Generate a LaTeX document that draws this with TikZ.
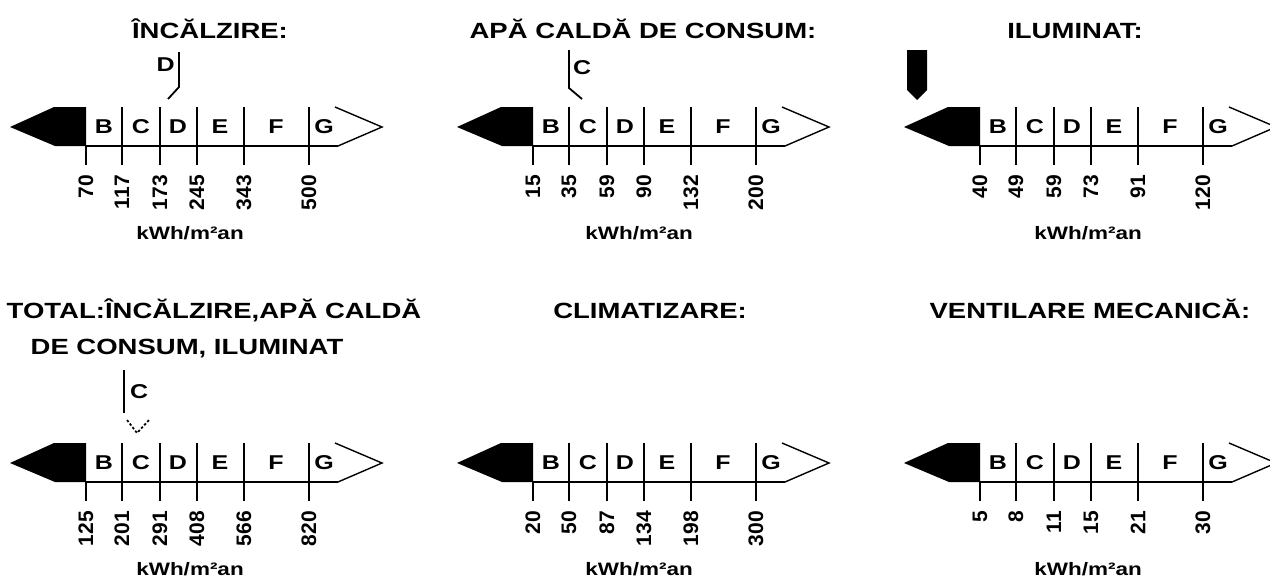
\documentclass[tikz,border=0pt]{standalone}
\usepackage{fontspec}
\setmainfont{Liberation Sans}[FakeStretch=1.25]
\newfontfamily\cifre{Liberation Sans}
\usetikzlibrary{positioning}

\begin{document}
\begin{tikzpicture}[x=1pt, y=-1pt,
  titlu/.style={font=\fontsize{22}{26}\selectfont\bfseries, inner sep=0, anchor=base},
  litera/.style={font=\fontsize{20}{22}\selectfont\bfseries, inner sep=0},
  valoare/.style={font=\cifre\fontsize{21}{22}\selectfont\bfseries, inner sep=0, rotate=90, anchor=east},
  unitate/.style={font=\fontsize{18}{20}\selectfont\bfseries, inner sep=0},
  linie/.style={line width=1.8pt},
  sageata/.style={line width=1.4pt}]
\useasboundingbox (0,0) rectangle (1270,579);

\node[titlu] (T1) at (210,38) {ÎNCĂLZIRE:};
\node[titlu] (T2) at (643,38) {APĂ CALDĂ DE CONSUM:};
\node[titlu] (T3) at (1075,38) {ILUMINAT:};
\node[titlu] (T4) at (214,318) {TOTAL:ÎNCĂLZIRE,APĂ CALDĂ};
\node[titlu] (T4b) at (187,354) {DE CONSUM, ILUMINAT};
\node[titlu] (T5) at (650,318) {CLIMATIZARE:};
\node[titlu] (T6) at (1090,318) {VENTILARE MECANICĂ:};

\begin{scope}[shift={(86,107)}]
  \fill (-76,20) -- (-32,0) -- (0,0) -- (0,39) -- (-31,39) -- cycle;
  \draw[linie] (0,39) -- (252,39); \draw[sageata] (252,39) -- (296,20) -- (249,0);
  \draw[linie] (0,39) -- (0,58) (36,0) -- (36,58) (74,0) -- (74,58) (111,0) -- (111,58) (158,0) -- (158,58) (223,0) -- (223,58);
  \path[litera] (18,20) node (A-B) {B} (55,20) node (A-C) {C} (92,20) node (A-D) {D} (134,20) node (A-E) {E} (190,20) node (A-F) {F} (238,20) node (A-G) {G};
  \path (0,68) node[valoare] (A-1) {70} (36,68) node[valoare] (A-2) {117} (74,68) node[valoare] (A-3) {173} (111,68) node[valoare] (A-4) {245} (158,68) node[valoare] (A-5) {343} (223,68) node[valoare] (A-6) {500};
  \node[unitate] (A-u) at (104,126) {kWh/m²an};
  \draw[linie] (93,-55) -- (93,-20) -- (82,-8);
  \node[litera, anchor=east] (A-m) at (89,-42) {D};
\end{scope}

\begin{scope}[shift={(533,107)}]
  \fill (-76,20) -- (-32,0) -- (0,0) -- (0,39) -- (-31,39) -- cycle;
  \draw[linie] (0,39) -- (252,39); \draw[sageata] (252,39) -- (296,20) -- (249,0);
  \draw[linie] (0,39) -- (0,58) (36,0) -- (36,58) (74,0) -- (74,58) (111,0) -- (111,58) (158,0) -- (158,58) (223,0) -- (223,58);
  \path[litera] (18,20) node (B-B) {B} (55,20) node (B-C) {C} (92,20) node (B-D) {D} (134,20) node (B-E) {E} (190,20) node (B-F) {F} (238,20) node (B-G) {G};
  \path (0,68) node[valoare] (B-1) {15} (36,68) node[valoare] (B-2) {35} (74,68) node[valoare] (B-3) {59} (111,68) node[valoare] (B-4) {90} (158,68) node[valoare] (B-5) {132} (223,68) node[valoare] (B-6) {200};
  \node[unitate] (B-u) at (106,126) {kWh/m²an};
  \draw[linie] (36,-57) -- (36,-19) -- (49,-8);
  \node[litera, anchor=west] (B-m) at (40,-39) {C};
\end{scope}

\begin{scope}[shift={(980,107)}]
  \fill (-76,20) -- (-32,0) -- (0,0) -- (0,39) -- (-31,39) -- cycle;
  \draw[linie] (0,39) -- (252,39); \draw[sageata] (252,39) -- (296,20) -- (249,0);
  \draw[linie] (0,39) -- (0,58) (36,0) -- (36,58) (74,0) -- (74,58) (111,0) -- (111,58) (158,0) -- (158,58) (223,0) -- (223,58);
  \path[litera] (18,20) node (C-B) {B} (55,20) node (C-C) {C} (92,20) node (C-D) {D} (134,20) node (C-E) {E} (190,20) node (C-F) {F} (238,20) node (C-G) {G};
  \path (0,68) node[valoare] (C-1) {40} (36,68) node[valoare] (C-2) {49} (74,68) node[valoare] (C-3) {59} (111,68) node[valoare] (C-4) {73} (158,68) node[valoare] (C-5) {91} (223,68) node[valoare] (C-6) {120};
  \node[unitate] (C-u) at (108,126) {kWh/m²an};
  \fill (-73,-57) -- (-53,-57) -- (-53,-17) -- (-63,-7) -- (-73,-17) -- cycle;
\end{scope}

\begin{scope}[shift={(86,443)}]
  \fill (-76,20) -- (-32,0) -- (0,0) -- (0,39) -- (-31,39) -- cycle;
  \draw[linie] (0,39) -- (252,39); \draw[sageata] (252,39) -- (296,20) -- (249,0);
  \draw[linie] (0,39) -- (0,58) (36,0) -- (36,58) (74,0) -- (74,58) (111,0) -- (111,58) (158,0) -- (158,58) (223,0) -- (223,58);
  \path[litera] (18,20) node (D-B) {B} (55,20) node (D-C) {C} (92,20) node (D-D) {D} (134,20) node (D-E) {E} (190,20) node (D-F) {F} (238,20) node (D-G) {G};
  \path (0,68) node[valoare] (D-1) {125} (36,68) node[valoare] (D-2) {201} (74,68) node[valoare] (D-3) {291} (111,68) node[valoare] (D-4) {408} (158,68) node[valoare] (D-5) {566} (223,68) node[valoare] (D-6) {820};
  \node[unitate] (D-u) at (104,126) {kWh/m²an};
  \draw[linie] (38,-73) -- (38,-30);
  \node[litera, anchor=west] (D-m) at (44,-51) {C};
  \draw[line width=1.7pt, dash pattern=on 2.5pt off 2pt] (41,-23) -- (51,-10) -- (64,-24);
\end{scope}

\begin{scope}[shift={(533,443)}]
  \fill (-76,20) -- (-32,0) -- (0,0) -- (0,39) -- (-31,39) -- cycle;
  \draw[linie] (0,39) -- (252,39); \draw[sageata] (252,39) -- (296,20) -- (249,0);
  \draw[linie] (0,39) -- (0,58) (36,0) -- (36,58) (74,0) -- (74,58) (111,0) -- (111,58) (158,0) -- (158,58) (223,0) -- (223,58);
  \path[litera] (18,20) node (E-B) {B} (55,20) node (E-C) {C} (92,20) node (E-D) {D} (134,20) node (E-E) {E} (190,20) node (E-F) {F} (238,20) node (E-G) {G};
  \path (0,68) node[valoare] (E-1) {20} (36,68) node[valoare] (E-2) {50} (74,68) node[valoare] (E-3) {87} (111,68) node[valoare] (E-4) {134} (158,68) node[valoare] (E-5) {198} (223,68) node[valoare] (E-6) {300};
  \node[unitate] (E-u) at (106,126) {kWh/m²an};
\end{scope}

\begin{scope}[shift={(980,443)}]
  \fill (-76,20) -- (-32,0) -- (0,0) -- (0,39) -- (-31,39) -- cycle;
  \draw[linie] (0,39) -- (252,39); \draw[sageata] (252,39) -- (296,20) -- (249,0);
  \draw[linie] (0,39) -- (0,58) (36,0) -- (36,58) (74,0) -- (74,58) (111,0) -- (111,58) (158,0) -- (158,58) (223,0) -- (223,58);
  \path[litera] (18,20) node (F-B) {B} (55,20) node (F-C) {C} (92,20) node (F-D) {D} (134,20) node (F-E) {E} (190,20) node (F-F) {F} (238,20) node (F-G) {G};
  \path (0,68) node[valoare] (F-1) {5} (36,68) node[valoare] (F-2) {8} (74,68) node[valoare] (F-3) {11} (111,68) node[valoare] (F-4) {15} (158,68) node[valoare] (F-5) {21} (223,68) node[valoare] (F-6) {30};
  \node[unitate] (F-u) at (108,126) {kWh/m²an};
\end{scope}

\end{tikzpicture}
\end{document}
